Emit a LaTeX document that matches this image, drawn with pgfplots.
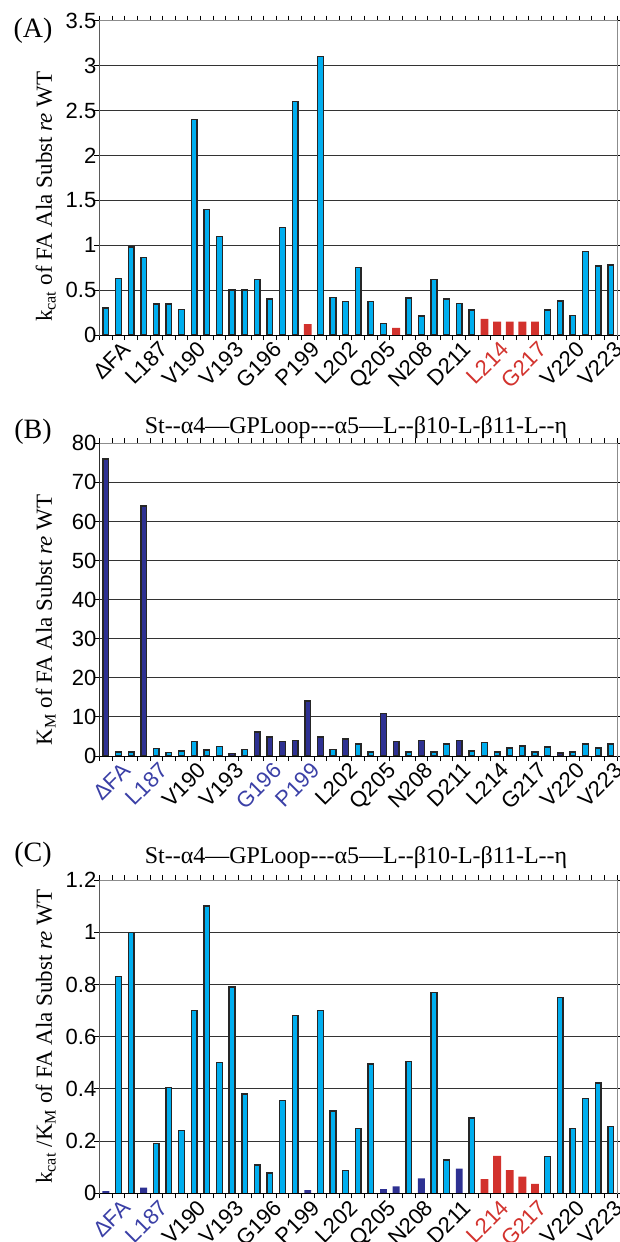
\documentclass[border=0pt]{standalone}
\usepackage{pgfplots}
\pgfplotsset{compat=1.18}
\usepackage{fontspec}
\setmainfont{Liberation Serif}
\newfontfamily\arialf{Liberation Sans}
\definecolor{lb}{HTML}{00AEEF}
\definecolor{db}{HTML}{2E3192}
\definecolor{rd}{HTML}{D2322D}
\definecolor{lbl}{HTML}{3A3FA6}

\pgfplotsset{
  panel/.style={
    scale only axis, width=517.5pt,
    xmin=-0.5, xmax=40.5, ymin=0,
    ybar, bar shift=0pt,
    ymajorgrids, grid style={black!80, line width=0.9pt},
    axis line style={black!45, line width=1pt},
    tick align=outside,
    major tick length=5pt, minor tick length=5pt,
    major x tick style={draw=none},
    minor x tick style={black, line width=0.9pt},
    ytick style={black, line width=0.9pt},
    minor xtick={-0.5,0.5,...,40.5},
    xtick={0,3,...,39},
    tick label style={font=\fontsize{22}{26}\selectfont\arialf},
    /pgf/number format/assume math mode=true,
    xticklabel style={inner sep=0pt, xshift=15pt, yshift=0pt, rotate=45, anchor=north east},
    yticklabel style={inner sep=0pt, anchor=east, xshift=2pt},
  },
  ylab/.style={ylabel style={font=\fontsize{23}{27}\selectfont, at={(axis description cs:-0.104,#1)}, anchor=center}},
  lightbar/.style={fill=lb, draw=black!85, line width=1.4pt, bar width=0.45},
  darkbar/.style={fill=db, draw=black!85, line width=1.4pt, bar width=0.45},
  flatdark/.style={fill=db, draw=none, bar width=0.55},
  redbar/.style={fill=rd, draw=none, bar width=0.62},
}

\begin{document}
\begin{tikzpicture}
\useasboundingbox (0pt,0pt) rectangle (620pt,-1242pt);

% panel A
\begin{axis}[panel, ylab=0.44, at={(99.5pt,-335pt)}, anchor=south west, height=314.3pt,
  ymax=3.5, ytick={0,0.5,1,1.5,2,2.5,3,3.5},
  ylabel={k\textsubscript{cat} of FA Ala Subst \textit{re} WT},
  xticklabels={ΔFA,L187,V190,V193,G196,P199,L202,Q205,N208,D211,\textcolor{rd}{L214},\textcolor{rd}{G217},V220,V223}]
\addplot[lightbar] coordinates {
 (0,0.30) (1,0.63) (2,0.98) (3,0.86) (4,0.345) (5,0.345) (6,0.285) (7,2.40) (8,1.40) (9,1.10)
 (10,0.50) (11,0.50) (12,0.62) (13,0.40) (14,1.20) (15,2.60) (17,3.10) (18,0.42) (19,0.37) (20,0.75)
 (21,0.37) (22,0.13) (24,0.41) (25,0.21) (26,0.62) (27,0.40) (28,0.35) (29,0.28)
 (35,0.28) (36,0.38) (37,0.22) (38,0.93) (39,0.77) (40,0.78)};
\addplot[redbar] coordinates {
 (16,0.12) (23,0.08) (30,0.18) (31,0.15) (32,0.15) (33,0.15) (34,0.15)};
\draw[black, line width=1pt] (rel axis cs:0,1) -- (rel axis cs:0,0) -- (rel axis cs:1,0);
\end{axis}

% panel B
\begin{axis}[panel, ylab=0.435, at={(99.5pt,-756pt)}, anchor=south west, height=312.7pt,
  ymax=80, ytick={0,10,...,80},
  ylabel={K\textsubscript{M} of FA Ala Subst \textit{re} WT},
  xticklabels={\textcolor{lbl}{ΔFA},\textcolor{lbl}{L187},V190,V193,\textcolor{lbl}{G196},\textcolor{lbl}{P199},L202,Q205,N208,D211,L214,G217,V220,V223}]
\addplot[darkbar] coordinates {
 (0,76) (3,64) (10,0.7) (12,6.1) (13,4.9) (14,3.7) (15,3.9) (16,14.1) (17,4.9) (19,4.4)
 (22,10.9) (23,3.75) (25,4.0) (28,4.0) (36,0.8)};
\addplot[lightbar] coordinates {
 (1,1.0) (2,1.0) (4,1.9) (5,0.95) (6,1.3) (7,3.7) (8,1.5) (9,2.5) (11,1.6) (18,1.6)
 (20,3.1) (21,1.0) (24,1.0) (26,1.0) (27,3.1) (29,1.3) (30,3.5) (31,1.0) (32,2.0) (33,2.6)
 (34,1.0) (35,2.3) (37,1.0) (38,3.1) (39,2.0) (40,3.1)};
\draw[black, line width=1pt] (rel axis cs:0,1) -- (rel axis cs:0,0) -- (rel axis cs:1,0);
\end{axis}

% panel C
\begin{axis}[panel, ylab=0.5, at={(99.5pt,-1193.3pt)}, anchor=south west, height=313.3pt,
  ymax=1.2, ytick={0,0.2,0.4,0.6,0.8,1,1.2},
  ylabel={k\textsubscript{cat} /K\textsubscript{M} of FA Ala Subst \textit{re} WT},
  xticklabels={\textcolor{lbl}{ΔFA},\textcolor{lbl}{L187},V190,V193,G196,P199,L202,Q205,N208,D211,\textcolor{rd}{L214},\textcolor{rd}{G217},V220,V223}]
\addplot[flatdark] coordinates {
 (0,0.008) (3,0.022) (16,0.012) (22,0.016) (23,0.027) (25,0.057) (28,0.095)};
\addplot[lightbar] coordinates {
 (1,0.83) (2,1.0) (4,0.19) (5,0.405) (6,0.24) (7,0.70) (8,1.10) (9,0.50) (10,0.79) (11,0.38)
 (12,0.108) (13,0.078) (14,0.355) (15,0.68) (17,0.70) (18,0.315) (19,0.087) (20,0.248) (21,0.495)
 (24,0.505) (26,0.77) (27,0.128) (29,0.288) (35,0.141) (36,0.75) (37,0.248) (38,0.364) (39,0.423) (40,0.256)};
\addplot[redbar] coordinates {
 (30,0.054) (31,0.143) (32,0.089) (33,0.064) (34,0.036)};
\draw[black, line width=1pt] (rel axis cs:0,1) -- (rel axis cs:0,0) -- (rel axis cs:1,0);
\end{axis}

\node[font=\fontsize{28}{32}\selectfont] at (33pt,-31pt) {(A)};
\node[font=\fontsize{28}{32}\selectfont] at (33pt,-432pt) {(B)};
\node[font=\fontsize{28}{32}\selectfont] at (33pt,-855pt) {(C)};
\node[font=\fontsize{24}{28}\selectfont] at (356pt,-428pt) {St-{}-α4—GPLoop-{}-{}-α5—L-{}-β10-L-β11-L-{}-η};
\node[font=\fontsize{24}{28}\selectfont] at (356pt,-858pt) {St-{}-α4—GPLoop-{}-{}-α5—L-{}-β10-L-β11-L-{}-η};
\end{tikzpicture}
\end{document}
